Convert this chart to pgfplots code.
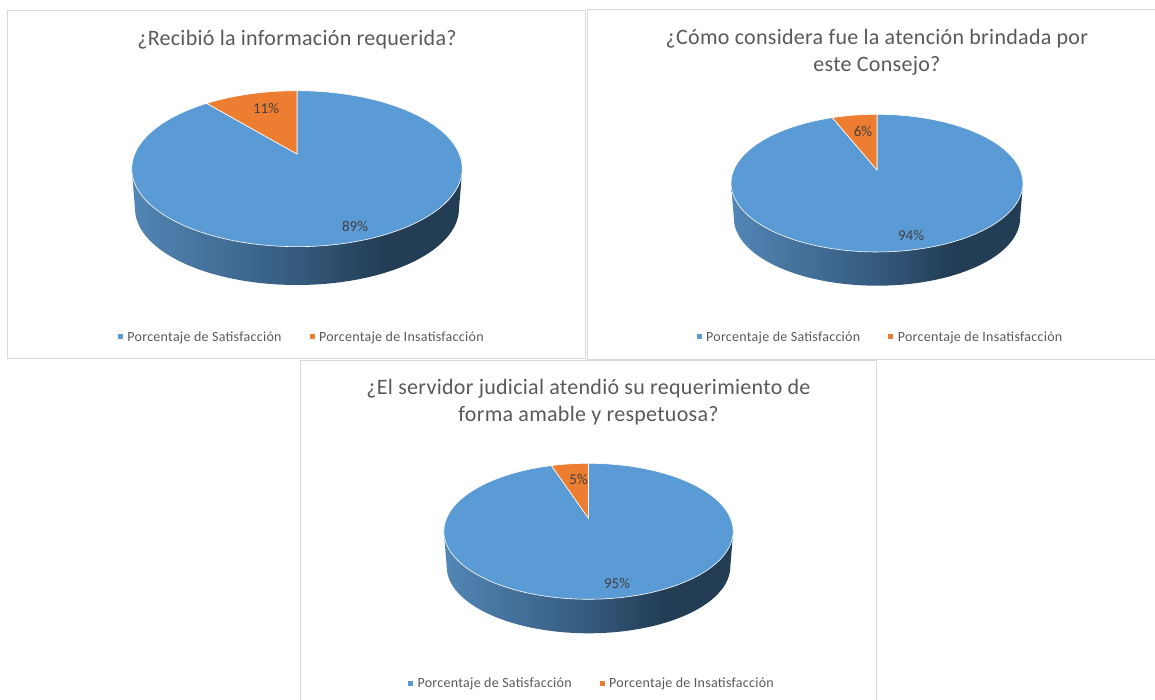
\documentclass[border=0pt]{standalone}
\usepackage{pgfplots}
\usepackage{pgfplotstable}
\usepackage{fontspec}
\pgfplotsset{compat=1.18}
\setmainfont{Carlito}
\newfontfamily\titlefont[LetterSpace=1.3]{Carlito}
\newfontfamily\legfont[LetterSpace=2]{Carlito}
\definecolor{piebl}{HTML}{5B9BD5}
\definecolor{pieor}{HTML}{ED7D31}
\definecolor{txt}{HTML}{595959}
\definecolor{lab}{HTML}{404040}
\definecolor{frm}{HTML}{D9D9D9}
\definecolor{sa}{HTML}{5286B5}
\definecolor{sb}{HTML}{355A7E}
\definecolor{sc}{HTML}{233D54}
\pgfdeclarehorizontalshading{pieside}{100bp}{color(0bp)=(sa); color(25bp)=(sa); color(50bp)=(sb); color(63bp)=(sc); color(75bp)=(sc); color(100bp)=(sc)}

\pgfplotstableread{
category value
Satisfaccion 89
Insatisfaccion 11
}\tableA
\pgfplotstableread{
category value
Satisfaccion 94
Insatisfaccion 6
}\tableB
\pgfplotstableread{
category value
Satisfaccion 95
Insatisfaccion 5
}\tableC

% #1 cx, #2 apex y, #3 half width, #4 top y, #5 bottom y of the top face, #6 bottom y of the side, #7 table
\newcommand{\setpie}[7]{%
  \def\cx{#1}\def\ay{#2}\def\rx{#3}\def\ty{#4}\def\by{#5}\def\sy{#6}%
  \pgfplotstablegetelem{0}{value}\of#7\let\va\pgfplotsretval
  \pgfmathsetmacro\kk{((#5-#2)-(#2-#4))/((#5-#2)+(#2-#4))}%
  \pgfmathsetmacro\BB{(#2-#4)*(1+\kk)}%
  \pgfmathsetmacro\AA{#3*sqrt(1-\kk*\kk)}%
  \pgfmathsetmacro\cy{(#4+#5)/2}%
  \pgfmathsetmacro\ry{(#5-#4)/2}%
  \pgfmathsetmacro\rb{#3*0.98}%
  \pgfmathsetmacro\ryb{\ry*0.98}%
  \pgfmathsetmacro\cb{#6-\ryb}%
  \pgfmathsetmacro\tb{3.6*\va}%
  \pgfmathsetmacro\dbl{\tb/100}%
  \pgfmathsetmacro\dbs{\tb-\dbl}%
  \pgfmathsetmacro\dor{(360-\tb)/30}%
  \pgfmathsetmacro\dos{\tb-\dor}%
  \pgfmathsetmacro\rxl{\cx-\rx}%
  \pgfmathsetmacro\rxr{\cx+\rx}%
}
\newcommand{\pieplots}{%
  \addplot[forget plot,mark=none,draw=none,shading=pieside,domain=0:180,samples=90]
    ({\cx+\rb*cos(x)},{\cb+\ryb*sin(x)}) -- (axis cs:\rxl,\cy) -- (axis cs:\rxr,\cy) -- cycle;
  \addplot[mark=none,draw=white,line width=0.6pt,fill=piebl,domain={-\dbl}:\tb,samples=101]
    ({\cx+(x<-0.5*\dbl?0:1)*\AA*sin(x)/(1+\kk*cos(x))},{\ay-(x<-0.5*\dbl?0:1)*\BB*cos(x)/(1+\kk*cos(x))}) -- cycle;
  \addlegendentry{Porcentaje de Satisfacción}
  \addplot[mark=none,draw=white,line width=0.6pt,fill=pieor,domain=\dos:360,samples=31]
    ({\cx+(x<\tb-0.5*\dor?0:1)*\AA*sin(x)/(1+\kk*cos(x))},{\ay-(x<\tb-0.5*\dor?0:1)*\BB*cos(x)/(1+\kk*cos(x))}) -- cycle;
  \addlegendentry{Porcentaje de Insatisfacción}
}
\pgfplotsset{
  panel/.style={
    scale only axis, anchor=south west, clip=false, y dir=reverse,
    xtick=\empty, ytick=\empty,
    axis line style={draw=frm,line width=1pt},
    title style={font=\titlefont\fontsize{22}{27}\selectfont,text=txt,align=center,anchor=center},
    legend columns=2,
    legend cell align=left,
    legend style={draw=none,fill=none,anchor=center,text=txt,font=\legfont\fontsize{14}{16}\selectfont,
      /tikz/every odd column/.style={column sep=2.5pt},
      /tikz/every even column/.style={column sep=26pt}},
    legend image code/.code={\path[##1,draw=none] (0pt,-2.5pt) rectangle (5pt,2.5pt);},
  },
}
\newcommand{\plab}[3]{\node[text=lab,font=\fontsize{15}{17}\selectfont] at (axis cs:#1,#2) {#3};}
\begin{document}
\begin{tikzpicture}[x=1pt,y=1pt]
\useasboundingbox (0pt,0pt) rectangle (1155pt,-700pt);

\setpie{297}{154}{165.3}{90.7}{246.7}{285}{\tableA}
\begin{axis}[panel, at={(7pt,-358pt)}, width=578pt, height=347pt,
  xmin=7, xmax=585, ymin=11, ymax=358,
  title={¿Recibió la información requerida?},
  title style={at={(0.5017,0.922)},yshift=-8pt},
  legend style={at={(0.51,0.0606)}}]
\pieplots
\plab{266}{108}{11\%}
\plab{355}{226}{89\%}
\end{axis}

\setpie{877}{170}{146}{114.3}{252}{285.7}{\tableB}
\begin{axis}[panel, at={(587pt,-359pt)}, width=573pt, height=349.5pt,
  xmin=587, xmax=1160, ymin=9.5, ymax=359,
  title={¿Cómo considera fue la atención brindada por\\este Consejo?},
  title style={at={(0.506,0.883)},yshift=-8pt},
  legend style={at={(0.5122,0.063)}}]
\pieplots
\plab{863}{131}{6\%}
\plab{911}{235}{94\%}
\end{axis}

\setpie{588.5}{518.3}{144.7}{463.3}{599.3}{633.3}{\tableC}
\begin{axis}[panel, at={(300.7pt,-705pt)}, width=575.3pt, height=345pt,
  xmin=300.7, xmax=876, ymin=360, ymax=705,
  title={¿El servidor judicial atendió su requerimiento de\\forma amable y respetuosa?},
  title style={at={(0.5003,0.884)},yshift=-8pt},
  legend style={at={(0.5063,0.0637)}}]
\pieplots
\plab{578.6}{479}{5\%}
\plab{617}{583}{95\%}
\end{axis}
\end{tikzpicture}
\end{document}
